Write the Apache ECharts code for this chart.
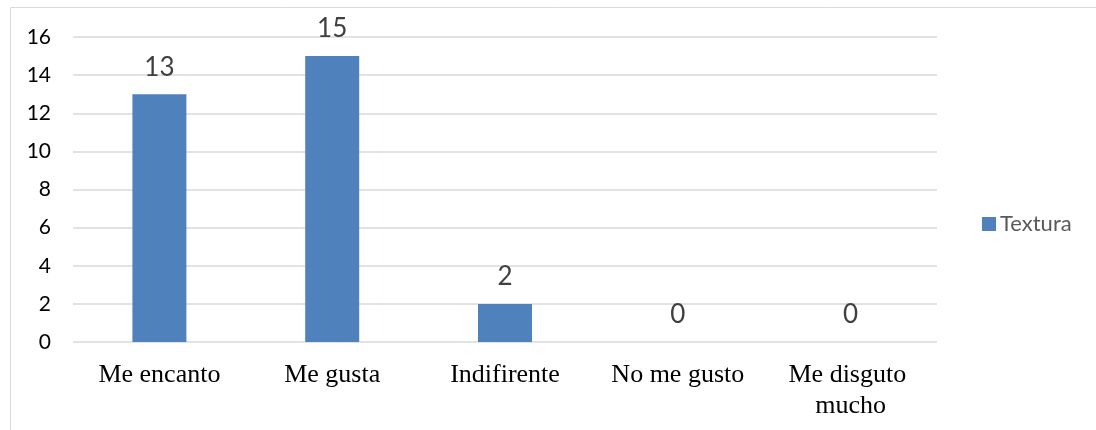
<!DOCTYPE html>
<html><head><meta charset="utf-8">
<script src="https://cdn.jsdelivr.net/npm/echarts@6/dist/echarts.min.js"></script>
<style>html,body{margin:0;padding:0;background:#fff}#c{width:1096px;height:430px}</style>
</head><body><div id="c"></div>
<script>
const categories = ["Me encanto", "Me gusta", "Indifirente", "No me gusto", "Me disguto mucho"];
const seriesName = "Textura";
const values = [13, 15, 2, 0, 0];
const yTicks = { min: 0, max: 16, interval: 2 };

const chart = echarts.init(document.getElementById('c'), null, { renderer: 'canvas' });
chart.setOption({
  animation: false,
  graphic: [{
    type: 'rect', shape: { x: 10.5, y: 7.5, width: 1100, height: 440 },
    style: { fill: 'none', stroke: '#d9d9d9', lineWidth: 1 }, silent: true, z: -1
  }],
  grid: { left: 73, right: 159, top: 37, bottom: 88, containLabel: false },
  legend: {
    data: [seriesName], orient: 'vertical', left: 977, top: 208,
    itemWidth: 14, itemHeight: 14, itemGap: 5, icon: 'rect',
    textStyle: { fontFamily: 'Lato, "Open Sans", sans-serif', fontSize: 22, color: '#595959', padding: [0, 0, 0, -1] }
  },
  xAxis: {
    type: 'category', data: categories,
    axisLine: { show: false }, axisTick: { show: false },
    axisLabel: {
      interval: 0, margin: 18, width: 168, overflow: 'break',
      fontFamily: '"Liberation Serif", "Times New Roman", serif', fontSize: 26, color: '#000', lineHeight: 31
    }
  },
  yAxis: {
    type: 'value', min: yTicks.min, max: yTicks.max, interval: yTicks.interval,
    axisLine: { show: false }, axisTick: { show: false },
    splitLine: { lineStyle: { color: '#d9d9d9', width: 1.5 } },
    axisLabel: { margin: 22, fontFamily: 'Lato, "Open Sans", sans-serif', fontSize: 21, color: '#000' }
  },
  series: [{
    name: seriesName, type: 'bar', data: values, barWidth: 54,
    itemStyle: { color: '#4f81bd' },
    label: {
      show: true, position: 'top', distance: 14,
      fontFamily: 'Lato, "Open Sans", sans-serif', fontSize: 26, color: '#404040'
    }
  }]
});
</script></body></html>
